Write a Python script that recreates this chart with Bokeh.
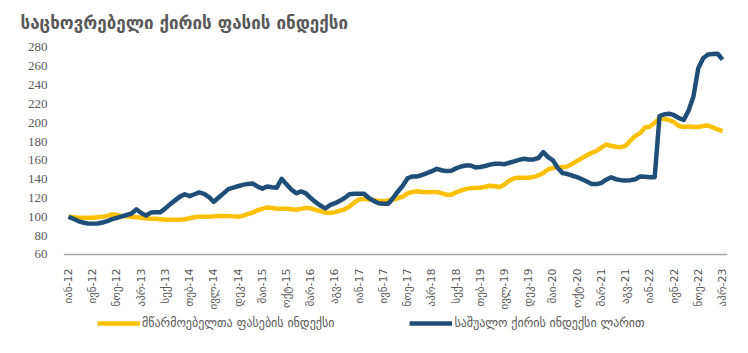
from bokeh.plotting import figure
from bokeh.models import Legend, LegendItem, FixedTicker, Range1d, Title
from bokeh.embed import file_html
from bokeh.resources import INLINE
import math

title_text = "საცხოვრებელი ქირის ფასის ინდექსი"
series_yellow_name = "მწარმოებელთა ფასების ინდექსი"
series_blue_name = "საშუალო ქირის ინდექსი ლარით"

# monthly, Jan-2012 .. Apr-2023 (136 months)
yellow = [
    100, 99.5, 99, 99, 99, 99, 99.5, 100, 101, 102.5,
    102, 101, 100.5, 100, 99.5, 99, 98.5, 98, 98, 97.5,
    97, 97, 97, 97, 97.5, 98.5, 99.5, 100, 100, 100,
    100.5, 101, 101, 101, 100.5, 100, 101, 103, 104.5, 107,
    108.5, 110, 109.5, 108.6, 108.6, 108.6, 108, 107.5, 108.5, 109.7,
    109, 107.5, 106, 104.5, 104, 105, 106.5, 108, 111, 115,
    118.5, 119.2, 118.5, 118, 117, 116.7, 117.5, 118.2, 120, 121.5,
    125, 126.5, 127.3, 126.5, 126.2, 126.5, 126.5, 125.2, 123.5, 123.5,
    126, 128, 129.5, 130.5, 131, 131, 132, 133, 132.5, 131.8,
    134.5, 138.5, 141, 141.6, 141.6, 141.6, 142.5, 144, 146.5, 150.5,
    152, 152.6, 153, 153.6, 156.5, 159.5, 162.5, 165.5, 168, 170,
    173.5, 176.9, 175.5, 174.5, 174, 175.5, 181, 186, 189, 195,
    196, 200, 205, 204, 203, 200.5, 196.5, 195.5, 196, 195.5,
    195.5, 196.5, 197, 195, 193, 191,
]
blue = [
    100, 98, 95.5, 94, 93, 92.8, 93, 94, 95.5, 97.5,
    99, 100.5, 102, 103.5, 108, 104, 101.5, 104.5, 105, 105,
    109, 113.5, 117.5, 121.5, 124, 122, 124, 126, 124.5, 121,
    116, 120.5, 125, 129.5, 131, 132.5, 134, 135, 135.5, 132.3,
    130, 132.3, 131.5, 131, 140.5, 134.5, 129, 125, 127, 125,
    120, 115.6, 112, 109, 112.5, 114.5, 117, 120, 124, 124.5,
    124.5, 124.5, 120, 117, 114.5, 114, 114, 120, 127, 133,
    141, 143, 143, 144.5, 146.5, 148.5, 151, 149.5, 148.6, 149,
    151.5, 153.5, 154.6, 154.6, 152.5, 153, 154, 155.5, 156.5, 156.5,
    156, 157.5, 159, 160.5, 161.7, 161, 161, 162.5, 168.8, 163.5,
    160, 152, 146.5, 145.5, 143.7, 142.2, 140, 137.5, 135, 134.8,
    136, 139.5, 142, 140, 139, 138.7, 139, 140, 142.8, 142.5,
    142.2, 142.2, 207, 209, 209.6, 208, 205, 203, 213, 228,
    258, 268.5, 272.5, 273, 273.3, 267,
]
tick_labels = [
    "იან-12", "ივნ-12", "ნოე-12", "აპრ-13", "სექ-13", "თებ-14", "ივლ-14",
    "დეკ-14", "მაი-15", "ოქტ-15", "მარ-16", "აგვ-16", "იან-17", "ივნ-17",
    "ნოე-17", "აპრ-18", "სექ-18", "თებ-19", "ივლ-19", "დეკ-19", "მაი-20",
    "ოქტ-20", "მარ-21", "აგვ-21", "იან-22", "ივნ-22", "ნოე-22", "აპრ-23",
]
y_ticks = [60, 80, 100, 120, 140, 160, 180, 200, 220, 240, 260, 280]

x = list(range(len(yellow)))
tick_pos = list(range(0, len(yellow), 5))

GEO = "DejaVu Sans"
GREY = "#595959"
YELLOW = "#FFC000"
BLUE = "#1F4E79"

# frame spans y=40..340 px; value 60 sits at y=254 px
p = figure(width=748, height=353, output_backend="svg", toolbar_location=None,
           x_range=Range1d(-1.03, 136.03), y_range=Range1d(-31.4, 287.4),
           min_border_left=63, min_border_right=21, min_border_top=40,
           min_border_bottom=13)
p.outline_line_color = None
p.xgrid.visible = False
p.ygrid.visible = False

# small empty spacer between the frame and the title
spacer = Title(text=" ", text_font_size="5px", standoff=0)
p.add_layout(spacer, "above")
t = Title(text=title_text, text_font=GEO, text_font_size="17px",
          text_font_style="bold", text_color=GREY, align="left", offset=-43,
          standoff=0)
p.add_layout(t, "above")

r1 = p.line(x, yellow, line_color=YELLOW, line_width=4.5, line_join="round")
r2 = p.line(x, blue, line_color=BLUE, line_width=4.5, line_join="round")

p.xaxis.fixed_location = 60
p.xaxis.ticker = FixedTicker(ticks=tick_pos)
p.xaxis.major_label_overrides = {pos: lab for pos, lab in zip(tick_pos, tick_labels)}
p.xaxis.major_label_orientation = math.pi / 2
p.xaxis.major_label_text_font = GEO
p.xaxis.major_label_text_font_size = "11px"
p.xaxis.major_label_text_color = GREY
p.xaxis.axis_line_color = "#A6A6A6"
p.xaxis.axis_line_width = 1.5
p.xaxis.major_tick_line_color = None
p.xaxis.minor_tick_line_color = None
p.xaxis.major_label_standoff = 8

p.yaxis.ticker = FixedTicker(ticks=y_ticks)
p.yaxis.axis_line_color = None
p.yaxis.major_tick_line_color = None
p.yaxis.minor_tick_line_color = None
p.yaxis.major_label_text_font = "Liberation Serif"
p.yaxis.major_label_text_font_size = "13px"
p.yaxis.major_label_text_color = GREY
p.yaxis.major_label_standoff = 10

legend = Legend(items=[LegendItem(label=series_yellow_name, renderers=[r1]),
                       LegendItem(label=series_blue_name, renderers=[r2])],
                orientation="horizontal", location=(34, 10),
                label_text_font=GEO, label_text_font_size="12px",
                label_text_color=GREY, glyph_width=43, glyph_height=8,
                label_standoff=2, spacing=75, padding=0, margin=0,
                border_line_color=None, background_fill_alpha=0)
p.add_layout(legend, "center")

open("out.html", "w").write(file_html(p, INLINE))
